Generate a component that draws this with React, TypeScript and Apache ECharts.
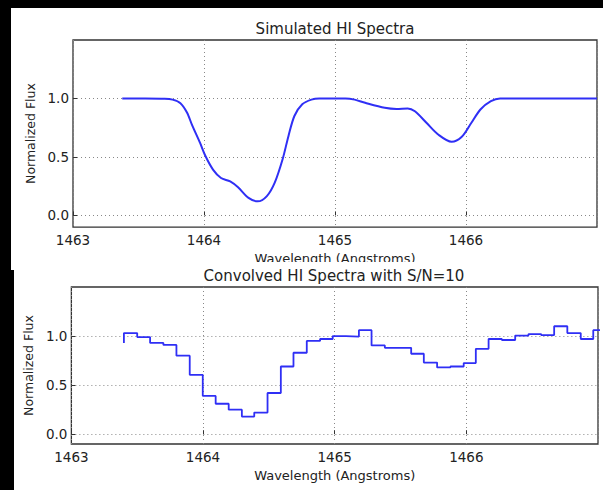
import React, { useEffect, useRef } from "react";
import * as echarts from "echarts";

// Top panel: simulated spectrum (wavelength, normalized flux)
const simWave = [
  1463.376, 1463.55, 1463.70, 1463.76, 1463.82, 1463.87, 1463.91, 1463.97, 1464.01, 1464.07,
  1464.13, 1464.20, 1464.26, 1464.34, 1464.41, 1464.48, 1464.54, 1464.60, 1464.645, 1464.69,
  1464.75, 1464.82, 1464.88, 1465.08, 1465.15, 1465.23, 1465.38, 1465.47, 1465.555, 1465.61,
  1465.70, 1465.79, 1465.89, 1465.966, 1466.04, 1466.11, 1466.19, 1466.26, 1467.0,
];
const simFlux = [
  1.0, 1.0, 0.998, 0.99, 0.96, 0.88, 0.77, 0.62, 0.51, 0.39,
  0.32, 0.29, 0.24, 0.15, 0.12, 0.165, 0.28, 0.48, 0.68, 0.85,
  0.95, 0.99, 1.0, 1.0, 0.99, 0.963, 0.92, 0.91, 0.915, 0.89,
  0.79, 0.69, 0.63, 0.67, 0.79, 0.906, 0.977, 1.0, 1.0,
];

// Bottom panel: binned (convolved) spectrum, step edges and values
const binWave = [
  1463.399, 1463.5, 1463.598, 1463.699, 1463.798, 1463.899, 1463.998, 1464.096, 1464.195, 1464.295,
  1464.389, 1464.49, 1464.591, 1464.687, 1464.788, 1464.889, 1464.985, 1465.085, 1465.184, 1465.28,
  1465.381, 1465.481, 1465.581, 1465.677, 1465.778, 1465.879, 1465.98, 1466.072, 1466.169, 1466.27,
  1466.371, 1466.472, 1466.568, 1466.667, 1466.767, 1466.869, 1466.964, 1467.063,
];
const binFlux = [
  0.93, 1.03, 0.99, 0.93, 0.91, 0.8, 0.605, 0.39, 0.31, 0.25,
  0.18, 0.22, 0.42, 0.69, 0.83, 0.95, 0.97, 1.0, 0.995, 1.06,
  0.905, 0.88, 0.88, 0.82, 0.73, 0.68, 0.69, 0.725, 0.87, 0.97,
  0.96, 1.005, 1.02, 1.01, 1.1, 1.03, 0.97, 1.06,
];

const xTicks = [1463, 1464, 1465, 1466, 1467];
const yTicks = [0.0, 0.5, 1.0];

const FONT = "'DejaVu Sans', Verdana, sans-serif";
const TEXT = "#222";
const LINE = "#2f2ff5";

function makeOption(
  title: string,
  titleX: number,
  titleY: number,
  grid: { left: number; right: number; top: number; bottom: number },
  seriesData: number[][],
  step: boolean
) {
  return {
    animation: false,
    graphic: [
      {
        type: "text",
        x: titleX,
        y: titleY,
        style: {
          text: title,
          font: `15px ${FONT}`,
          fill: TEXT,
          textAlign: "center",
          textVerticalAlign: "middle",
        },
      },
    ],
    grid: {
      ...grid,
      show: true,
      borderColor: "#333",
      borderWidth: 1.3,
      backgroundColor: "#fff",
      containLabel: false,
    },
    xAxis: {
      type: "value",
      min: xTicks[0],
      max: xTicks[xTicks.length - 1],
      interval: 1,
      name: "Wavelength (Angstroms)",
      nameLocation: "middle",
      nameGap: 24,
      nameTextStyle: { fontFamily: FONT, fontSize: 13, color: TEXT },
      axisLine: { show: false },
      axisTick: { show: true, inside: true, length: 4, lineStyle: { color: "#333" } },
      axisLabel: {
        fontFamily: FONT,
        fontSize: 13.5,
        color: TEXT,
        margin: 6,
        showMaxLabel: false,
        formatter: (v: number) => (v === xTicks[xTicks.length - 1] ? "" : String(v)),
      },
      splitLine: {
        show: true,
        lineStyle: { color: "#888", width: 1, type: [1, 3] },
      },
    },
    yAxis: {
      type: "value",
      min: -0.1,
      max: 1.5,
      name: "Normalized Flux",
      nameLocation: "middle",
      nameGap: 30,
      nameTextStyle: { fontFamily: FONT, fontSize: 12.5, color: TEXT },
      axisLine: { show: false },
      axisTick: {
        show: true,
        inside: true,
        length: 4,
        customValues: yTicks,
        lineStyle: { color: "#333" },
      },
      axisLabel: {
        fontFamily: FONT,
        fontSize: 13.5,
        color: TEXT,
        margin: 4,
        customValues: yTicks,
        formatter: (v: number) => v.toFixed(1),
      },
      splitLine: {
        show: true,
        lineStyle: { color: "#888", width: 1, type: [1, 3] },
      },
    },
    series: [
      {
        type: "line",
        data: seriesData,
        showSymbol: false,
        smooth: step ? false : 0.3,
        step: step ? "start" : false,
        clip: true,
        lineStyle: { color: LINE, width: step ? 1.8 : 2 },
        itemStyle: { color: LINE },
      },
    ],
  };
}

export default function App() {
  const topRef = useRef<HTMLDivElement>(null);
  const botRef = useRef<HTMLDivElement>(null);

  useEffect(() => {
    const top = echarts.init(topRef.current!, undefined, { renderer: "svg" });
    const bot = echarts.init(botRef.current!, undefined, { renderer: "svg" });
    const simData = simWave.map((w, i) => [w, simFlux[i]]);
    const binData = binWave.map((w, i) => [w, binFlux[i]]);
    top.setOption(
      makeOption("Simulated HI Spectra", 324, 21, { left: 62, right: 6, top: 32, bottom: 42 }, simData, false)
    );
    bot.setOption(
      makeOption(
        "Convolved HI Spectra with S/N=10",
        320,
        14,
        { left: 56, right: 5, top: 25, bottom: 46 },
        binData,
        true
      )
    );
    return () => {
      top.dispose();
      bot.dispose();
    };
  }, []);

  return (
    <div
      style={{
        position: "fixed",
        left: 0,
        top: 0,
        width: 603,
        height: 490,
        background: "#000",
        overflow: "hidden",
      }}
    >
      <div
        ref={topRef}
        style={{ position: "absolute", left: 11, top: 8, width: 592, height: 262, background: "#fff" }}
      />
      <div
        ref={botRef}
        style={{ position: "absolute", left: 14, top: 262, width: 589, height: 228, background: "#fff" }}
      />
    </div>
  );
}
